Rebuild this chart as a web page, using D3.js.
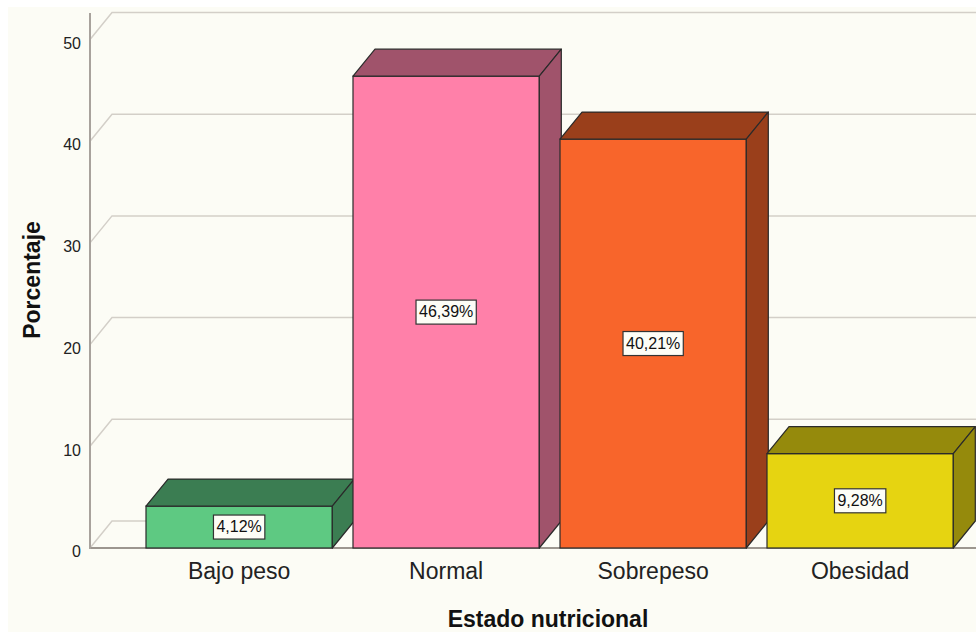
<!DOCTYPE html>
<html>
<head>
<meta charset="utf-8">
<script src="https://cdn.jsdelivr.net/npm/d3@7"></script>
<style>
  body { margin: 0; background: #ffffff; }
  text { font-family: "Liberation Sans", Arial, sans-serif; }
</style>
</head>
<body>
<div id="chart"></div>
<script>
(function(){
    var width = 976,
        height = 632;

    // data
    var categories = ["Bajo peso", "Normal", "Sobrepeso", "Obesidad"];
    var values = [4.12, 46.39, 40.21, 9.28];
    var yTicks = [0, 10, 20, 30, 40, 50];

    var frontColors = ["#5ec982", "#ff80a9", "#f8652b", "#e6d411"];
    var darkColors  = ["#3b7d52", "#a0536b", "#9a3f1b", "#958a0c"];

    // 3d depth offset
    var dx = 22, dy = -27;
    var axisX = 90;

    var svg = d3.select("#chart")
      .append("svg")
      .attr("width", width)
      .attr("height", height)

    svg.append("rect")
      .attr("x", 8)
      .attr("y", 7)
      .attr("width", width - 8)
      .attr("height", height - 7)
      .attr("fill", "#fcfcf5")

    var x = d3.scaleBand()
      .domain(categories)
      .range([135.65, 963.65])
      .paddingInner(0.1)
      .paddingOuter(0.05)

    var y = d3.scaleLinear()
      .domain([0, 50])
      .range([548, 39.5])

    // grid lines (wall + floor)
    svg.selectAll(".grid")
      .data(yTicks)
      .enter().append("path")
      .attr("class", "grid")
      .attr("fill", "none")
      .attr("stroke", "#d3cfc8")
      .attr("stroke-width", 1.5)
      .attr("d", function(d){
        var y0 = y(d);
        return "M" + axisX + "," + y0 + "L" + (axisX + dx) + "," + (y0 + dy) + "L" + width + "," + (y0 + dy);
      })

    // front floor line
    svg.append("line")
      .attr("x1", axisX).attr("x2", width)
      .attr("y1", y(0)).attr("y2", y(0))
      .attr("stroke", "#9c968f")
      .attr("stroke-width", 2)

    // y axis line
    svg.append("line")
      .attr("x1", axisX).attr("x2", axisX)
      .attr("y1", 13).attr("y2", y(0) + 1)
      .attr("stroke", "#a8a29c")
      .attr("stroke-width", 2)

    // tick labels
    svg.selectAll(".ytick")
      .data(yTicks)
      .enter().append("text")
      .attr("class", "ytick")
      .attr("x", 81)
      .attr("y", function(d){ return y(d) + 5; })
      .attr("text-anchor", "end")
      .attr("dominant-baseline", "middle")
      .attr("font-size", 16)
      .attr("fill", "#222")
      .text(function(d){ return d; })

    // bars
    var bars = svg.selectAll(".bar")
      .data(values)
      .enter().append("g")
      .attr("class", "bar")

    bars.append("rect")
      .attr("x", function(d, i){ return x(categories[i]); })
      .attr("y", function(d){ return y(d); })
      .attr("width", x.bandwidth())
      .attr("height", function(d){ return y(0) - y(d); })
      .attr("fill", function(d, i){ return frontColors[i]; })
      .attr("stroke", "#2a2a2a")
      .attr("stroke-width", 1.2)

    // top face
    bars.append("path")
      .attr("fill", function(d, i){ return darkColors[i]; })
      .attr("stroke", "#2a2a2a")
      .attr("stroke-width", 1.2)
      .attr("stroke-linejoin", "round")
      .attr("d", function(d, i){
        var x0 = x(categories[i]), x1 = x0 + x.bandwidth(), y0 = y(d);
        return "M" + x0 + "," + y0 + "L" + (x0 + dx) + "," + (y0 + dy) +
          "L" + (x1 + dx) + "," + (y0 + dy) + "L" + x1 + "," + y0 + "Z";
      })

    // side face
    bars.append("path")
      .attr("fill", function(d, i){ return darkColors[i]; })
      .attr("stroke", "#2a2a2a")
      .attr("stroke-width", 1.2)
      .attr("stroke-linejoin", "round")
      .attr("d", function(d, i){
        var x1 = x(categories[i]) + x.bandwidth(), y0 = y(d), yb = y(0);
        return "M" + x1 + "," + y0 + "L" + (x1 + dx) + "," + (y0 + dy) +
          "L" + (x1 + dx) + "," + (yb + dy) + "L" + x1 + "," + yb + "Z";
      })

    // value labels
    var fmt = function(v){ return d3.format(".2f")(v).replace(".", ",") + "%"; }

    bars.each(function(d, i){
      var g = d3.select(this);
      var cx = x(categories[i]) + x.bandwidth() / 2;
      var cy = (y(d) + y(0)) / 2;
      var t = g.append("text")
        .attr("x", cx)
        .attr("y", cy + 1)
        .attr("text-anchor", "middle")
        .attr("dominant-baseline", "middle")
        .attr("font-size", 16)
        .attr("fill", "#111")
        .text(fmt(d));
      var bb = t.node().getBBox();
      g.insert("rect", "text")
        .attr("x", cx - bb.width / 2 - 3)
        .attr("y", cy - 12)
        .attr("width", bb.width + 6)
        .attr("height", 24)
        .attr("fill", "#fdfdf6")
        .attr("stroke", "#333")
        .attr("stroke-width", 1.2)
    })

    // category labels
    svg.selectAll(".xlab")
      .data(categories)
      .enter().append("text")
      .attr("class", "xlab")
      .attr("x", function(d){ return x(d) + x.bandwidth() / 2; })
      .attr("y", 579)
      .attr("text-anchor", "middle")
      .attr("font-size", 23)
      .attr("fill", "#222")
      .text(function(d){ return d; })

    // axis titles
    svg.append("text")
      .attr("x", 548)
      .attr("y", 627)
      .attr("text-anchor", "middle")
      .attr("font-size", 23)
      .attr("font-weight", "bold")
      .attr("fill", "#111")
      .text("Estado nutricional")

    svg.append("text")
      .attr("transform", "translate(40,280) rotate(-90)")
      .attr("text-anchor", "middle")
      .attr("font-size", 23)
      .attr("font-weight", "bold")
      .attr("fill", "#111")
      .text("Porcentaje")

})();
</script>
</body>
</html>
